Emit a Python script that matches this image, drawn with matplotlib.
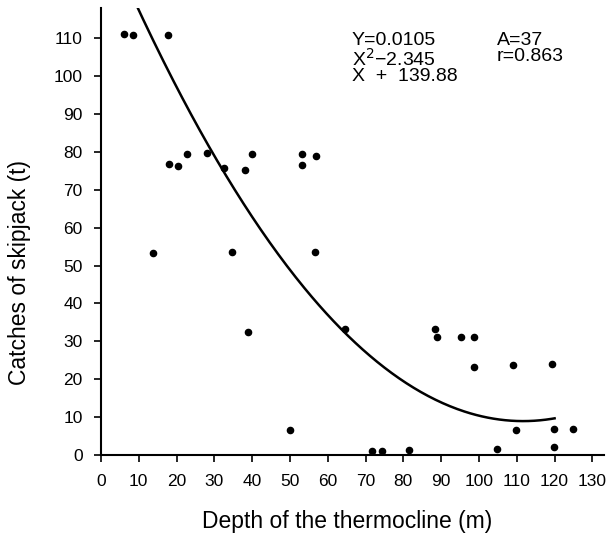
import numpy as np
import matplotlib
matplotlib.use("Agg")
import matplotlib.pyplot as plt

plt.rcParams['font.family'] = ['Liberation Sans', 'DejaVu Sans']

# Observations: depth of thermocline (m) and catches of skipjack (t)
depth = [6.1, 8.6, 17.7, 17.9, 20.4, 22.8, 28.1, 32.6, 38.2, 39.9, 53.2, 53.2, 57.0,
         13.8, 34.7, 56.5, 38.9, 64.5, 50.0,
         88.4, 89.0, 95.2, 98.6, 98.8, 108.9, 119.2, 109.7, 119.8, 125.0, 119.9,
         71.7, 74.4, 81.4, 104.8]
catch = [111.2, 111.0, 111.0, 76.8, 76.2, 79.6, 79.8, 75.8, 75.3, 79.4, 79.6, 76.5, 79.0,
         53.4, 53.5, 53.7, 32.5, 33.2, 6.5,
         33.3, 31.1, 31.2, 31.2, 23.3, 23.7, 23.9, 6.6, 6.8, 6.9, 2.0,
         1.1, 1.1, 1.3, 1.5]

# Fitted regression: Y = a X^2 + b X + c
coef_a, coef_b, coef_c = 0.0105, -2.345, 139.88
fit_range = (5.0, 120.0)

xticks = list(range(0, 131, 10))
yticks = list(range(0, 111, 10))

fig = plt.figure(figsize=(6.08, 5.37), dpi=100)
ax = fig.add_axes([0.166, 0.1527, 0.827, 0.8323])

ax.scatter(depth, catch, s=20, color='black', zorder=3, clip_on=False)

xf = np.linspace(fit_range[0], fit_range[1], 300)
yf = coef_a * xf**2 + coef_b * xf + coef_c
ax.plot(xf, yf, color='black', lw=1.8)

ax.set_xlim(0, 133)
ax.set_ylim(0, 118)
ax.set_xticks(xticks)
ax.set_yticks(yticks)
ax.tick_params(axis='both', direction='out', length=5, width=1.2, labelsize=12.5,
               colors='black')
ax.tick_params(axis='x', pad=9)
ax.tick_params(axis='y', pad=8)
for s in ['top', 'right']:
    ax.spines[s].set_visible(False)
for s in ['left', 'bottom']:
    ax.spines[s].set_linewidth(1.5)

ax.set_xlabel('Depth of the thermocline (m)', fontsize=16.5)
ax.set_ylabel('Catches of skipjack (t)', fontsize=16.5)
ax.xaxis.label.set_va('center')
ax.yaxis.label.set_va('center')
ax.xaxis.set_label_coords(0.5 - 5/503, (455 - 522) / 447)
ax.yaxis.set_label_coords((20 - 101) / 503, (455 - 272) / 447)

fig.text(352/608, 1 - 32/537, 'Y=0.0105\nX$^2$\u22122.345\nX  +  139.88', fontsize=14,
         va='top', ha='left', linespacing=0.92)
fig.text(497/608, 1 - 32/537, 'A=37\nr=0.863', fontsize=14, va='top', ha='left',
         linespacing=0.92)

fig.savefig('out.png', dpi=100)
